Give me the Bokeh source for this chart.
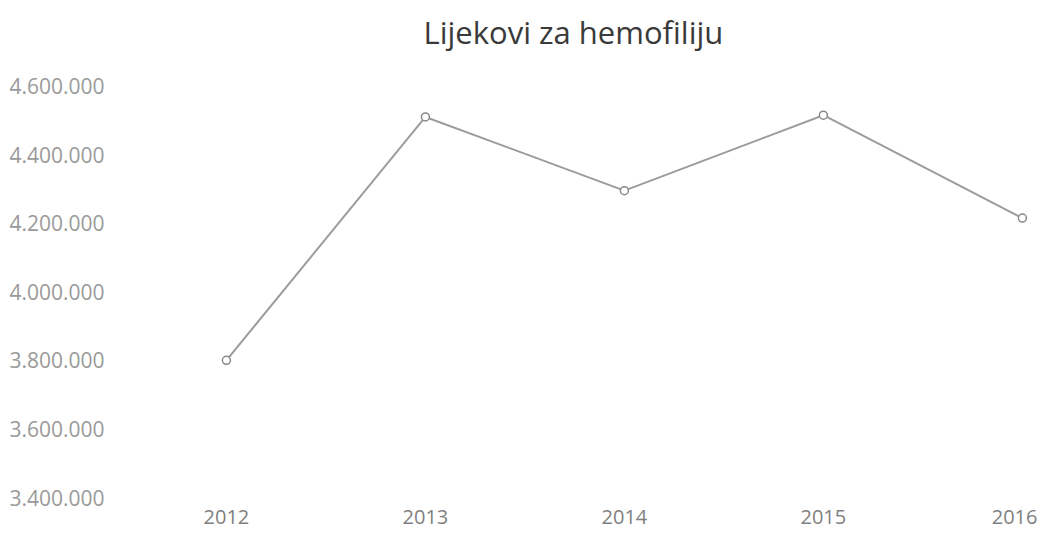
from bokeh.plotting import figure
from bokeh.models import FixedTicker, Range1d, ColumnDataSource
from bokeh.embed import file_html
from bokeh.resources import INLINE

# Data
years = [2012, 2013, 2014, 2015, 2016]
values = [3800000, 4510000, 4295000, 4515000, 4215000]
y_ticks = [3400000, 3600000, 3800000, 4000000, 4200000, 4400000, 4600000]
y_labels = ["3.400.000", "3.600.000", "3.800.000", "4.000.000", "4.200.000", "4.400.000", "4.600.000"]
title = "Lijekovi za hemofiliju"

src = ColumnDataSource(dict(x=years, y=values))

p = figure(width=1037, height=532, output_backend="svg", toolbar_location=None,
           x_range=Range1d(2011.513, 2016.076), y_range=Range1d(3391300, 4671700),
           min_border_left=129, min_border_right=0, min_border_top=0, min_border_bottom=32)
p.title.text = title
p.title.align = "left"
p.title.offset = 294
p.title.text_font = "Open Sans"
p.title.text_font_size = "31px"
p.title.text_font_style = "normal"
p.title.text_color = "#3a3a3a"
p.title.standoff = 17

p.outline_line_color = None
p.xgrid.visible = False
p.ygrid.visible = False

p.line("x", "y", source=src, line_color="#9c9c9c", line_width=2)
p.scatter("x", "y", source=src, marker="circle", size=8, line_color="#8a8a8a",
          fill_color="white", line_width=1.5)

p.yaxis.ticker = FixedTicker(ticks=y_ticks)
p.yaxis.major_label_overrides = {t: l for t, l in zip(y_ticks, y_labels)}
p.xaxis.ticker = FixedTicker(ticks=years)
p.xaxis.major_label_overrides = {y: str(y) for y in years}

for ax in (p.xaxis[0], p.yaxis[0]):
    ax.axis_line_color = None
    ax.major_tick_line_color = None
    ax.minor_tick_line_color = None
    ax.major_label_text_font = "Open Sans"

p.yaxis.major_label_text_font_size = "21px"
p.yaxis.major_label_text_color = "#9a9a9a"
p.yaxis.major_label_standoff = 19
p.xaxis.major_label_text_font_size = "20px"
p.xaxis.major_label_text_color = "#808080"
p.xaxis.major_label_standoff = 3

open("out.html", "w").write(file_html(p, INLINE))
